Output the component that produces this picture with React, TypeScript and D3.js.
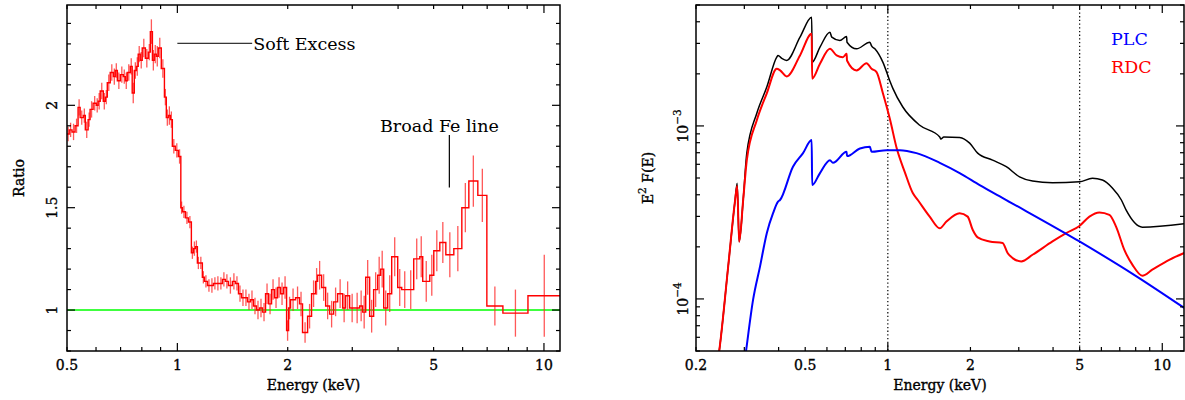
import React from "react";
import * as d3 from "d3";

const FONT = "'DejaVu Serif', serif";

// ---- left panel: data / model ratio, [bin low edge keV, ratio, error]
const ratioBins: [number, number, number][] = [
  [0.5, 1.86, 0.035], [0.507, 1.88, 0.035], [0.516, 1.87, 0.04], [0.526, 1.9, 0.035], [0.536, 1.99, 0.04],
  [0.543, 1.94, 0.035], [0.554, 1.95, 0.035], [0.561, 1.88, 0.04], [0.571, 1.93, 0.035], [0.578, 1.98, 0.04],
  [0.589, 2.01, 0.035], [0.601, 2.0, 0.035], [0.608, 2.02, 0.04], [0.616, 2.07, 0.04], [0.628, 2.02, 0.04],
  [0.636, 2.04, 0.035], [0.644, 2.11, 0.04], [0.656, 2.16, 0.04], [0.669, 2.14, 0.04], [0.677, 2.17, 0.035],
  [0.686, 2.12, 0.04], [0.699, 2.15, 0.04], [0.712, 2.14, 0.035], [0.721, 2.12, 0.04], [0.73, 2.16, 0.04],
  [0.744, 2.19, 0.04], [0.753, 2.06, 0.05], [0.763, 2.17, 0.04], [0.773, 2.19, 0.045], [0.782, 2.25, 0.04],
  [0.792, 2.22, 0.04], [0.802, 2.28, 0.045], [0.818, 2.23, 0.045], [0.833, 2.26, 0.04], [0.844, 2.36, 0.06],
  [0.855, 2.22, 0.05], [0.865, 2.25, 0.045], [0.876, 2.24, 0.05], [0.887, 2.28, 0.05], [0.904, 2.18, 0.045],
  [0.922, 2.04, 0.04], [0.933, 1.94, 0.04], [0.945, 1.95, 0.045], [0.957, 1.93, 0.04], [0.969, 1.8, 0.035],
  [0.987, 1.78, 0.035], [1.006, 1.75, 0.035], [1.022, 1.5, 0.03], [1.032, 1.48, 0.03], [1.052, 1.45, 0.03],
  [1.072, 1.43, 0.03], [1.092, 1.28, 0.03], [1.106, 1.3, 0.035], [1.12, 1.31, 0.03], [1.134, 1.23, 0.03],
  [1.148, 1.23, 0.03], [1.17, 1.16, 0.03], [1.185, 1.14, 0.03], [1.208, 1.12, 0.03], [1.231, 1.12, 0.035],
  [1.254, 1.13, 0.03], [1.278, 1.13, 0.035], [1.302, 1.13, 0.03], [1.327, 1.15, 0.035], [1.352, 1.14, 0.035],
  [1.378, 1.12, 0.04], [1.413, 1.14, 0.04], [1.44, 1.13, 0.035], [1.468, 1.08, 0.04], [1.496, 1.06, 0.04],
  [1.524, 1.06, 0.04], [1.553, 1.04, 0.04], [1.583, 1.05, 0.045], [1.613, 1.02, 0.04], [1.644, 1.0, 0.045],
  [1.675, 1.01, 0.045], [1.707, 0.99, 0.045], [1.74, 1.08, 0.05], [1.773, 1.03, 0.05], [1.807, 1.1, 0.05],
  [1.841, 1.06, 0.05], [1.876, 1.11, 0.05], [1.912, 1.08, 0.055], [1.948, 1.11, 0.055], [1.986, 0.9, 0.05],
  [2.011, 1.01, 0.055], [2.036, 1.05, 0.055], [2.101, 1.06, 0.055], [2.154, 1.03, 0.06], [2.195, 0.89, 0.05],
  [2.266, 0.97, 0.06], [2.323, 1.08, 0.065], [2.383, 1.14, 0.065], [2.413, 1.17, 0.07], [2.475, 1.11, 0.065],
  [2.538, 1.02, 0.065], [2.602, 0.98, 0.065], [2.668, 1.04, 0.07], [2.736, 1.08, 0.07], [2.824, 1.01, 0.07],
  [2.877, 1.07, 0.07], [2.951, 1.01, 0.07], [3.045, 1.01, 0.075], [3.142, 1.02, 0.075], [3.202, 0.99, 0.08],
  [3.264, 1.16, 0.085], [3.346, 0.97, 0.08], [3.431, 1.1, 0.085], [3.519, 1.17, 0.09], [3.586, 1.2, 0.09],
  [3.655, 1.01, 0.085], [3.748, 1.08, 0.09], [3.843, 1.26, 0.095], [3.991, 1.11, 0.09], [4.093, 1.1, 0.09],
  [4.25, 1.1, 0.095], [4.413, 1.25, 0.1], [4.583, 1.26, 0.1], [4.67, 1.14, 0.1], [4.881, 1.17, 0.1],
  [5.006, 1.29, 0.1], [5.199, 1.33, 0.1], [5.399, 1.27, 0.11], [5.677, 1.3, 0.11], [5.97, 1.5, 0.12],
  [6.239, 1.63, 0.125], [6.601, 1.56, 0.13], [6.986, 1.02, 0.095], [7.727, 0.985, 0.115], [9.044, 1.07, 0.2],
];
const ratioLastEdge = 11.1;
const ratioXLabels = [0.5, 1, 2, 5, 10];
const ratioYLabels = ["1", "1.5", "2"];

// ---- right panel: unfolded model E^2 F(E), [keV, flux]
const totalModel: [number, number][] = [
  [0.238, 4.0e-5], [0.243, 5.0e-5], [0.262, 1.54e-4], [0.2777, 3.73e-4], [0.2825, 4.67e-4], [0.2873, 2.14e-4],
  [0.2971, 3.73e-4], [0.3063, 6.96e-4], [0.3331, 1.183e-3], [0.3622, 1.678e-3], [0.3938, 2.497e-3],
  [0.398, 2.555e-3], [0.4108, 2.454e-3], [0.4281, 2.39e-3], [0.4786, 3.258e-3], [0.5279, 4.245e-3],
  [0.53, 2.337e-3], [0.5659, 2.853e-3], [0.6153, 3.479e-3], [0.625, 3.26e-3], [0.669, 3.118e-3],
  [0.7076, 3.287e-3], [0.71, 3.048e-3], [0.7694, 2.79e-3], [0.8603, 3.048e-3], [0.8725, 2.9e-3],
  [0.8969, 2.79e-3], [0.959, 2.337e-3], [1.017, 1.82e-3], [1.043, 1.648e-3], [1.134, 1.286e-3],
  [1.307, 1.009e-3], [1.546, 8.64e-4], [1.56, 8.4e-4], [1.6, 8.64e-4], [1.827, 8.58e-4], [1.987, 7.95e-4],
  [2.125, 6.96e-4], [2.409, 6.34e-4], [2.702, 5.81e-4], [3.02, 5.08e-4], [3.368, 4.8e-4], [3.981, 4.69e-4],
  [4.991, 4.75e-4], [5.566, 4.98e-4], [6.052, 4.87e-4], [6.579, 4.38e-4], [7.095, 3.73e-4], [7.379, 3.27e-4],
  [8.46, 2.6e-4], [12.02, 2.72e-4],
];
const rdcModel: [number, number][] = [
  [0.238, 4.0e-5], [0.243, 5.0e-5], [0.262, 1.54e-4], [0.2777, 3.73e-4], [0.2825, 4.5e-4], [0.2873, 2.14e-4],
  [0.2971, 3.73e-4], [0.3063, 6.34e-4], [0.3331, 1.079e-3], [0.3622, 1.543e-3], [0.3938, 2.141e-3],
  [0.405, 2.094e-3], [0.4281, 1.933e-3], [0.4786, 2.555e-3], [0.5279, 3.407e-3], [0.53, 1.875e-3],
  [0.5659, 2.287e-3], [0.6153, 2.79e-3], [0.6509, 2.555e-3], [0.686, 2.497e-3], [0.7076, 2.612e-3],
  [0.71, 2.39e-3], [0.7694, 2.094e-3], [0.8366, 2.306e-3], [0.8725, 2.141e-3], [0.9097, 2.047e-3],
  [0.959, 1.55e-3], [1.017, 1.1e-3], [1.078, 7.4e-4], [1.153, 5.41e-4], [1.233, 4.09e-4], [1.286, 3.73e-4],
  [1.421, 2.99e-4], [1.546, 2.56e-4], [1.635, 2.8e-4], [1.827, 3.13e-4], [1.954, 2.99e-4], [2.038, 2.51e-4],
  [2.125, 2.27e-4], [2.349, 2.15e-4], [2.619, 2.105e-4], [2.732, 1.842e-4], [2.849, 1.722e-4],
  [3.063, 1.647e-4], [3.368, 1.8e-4], [3.981, 2.15e-4], [4.466, 2.4e-4], [4.991, 2.64e-4], [5.427, 2.99e-4],
  [5.902, 3.16e-4], [6.416, 3.06e-4], [6.786, 2.62e-4], [7.275, 1.92e-4], [7.78, 1.578e-4], [8.46, 1.362e-4],
  [9.196, 1.476e-4], [10.6, 1.684e-4], [12.02, 1.842e-4],
];
const plcModel: [number, number][] = [
  [0.3, 4.2e-5], [0.3046, 5.04e-5], [0.3229, 9.9e-5], [0.3423, 1.542e-4], [0.3622, 2.4e-4], [0.3818, 3.13e-4],
  [0.398, 3.65e-4], [0.4047, 3.73e-4], [0.4512, 5.81e-4], [0.4909, 6.96e-4], [0.5279, 8.28e-4],
  [0.53, 4.55e-4], [0.5659, 5.34e-4], [0.6153, 6.34e-4], [0.631, 6.12e-4], [0.7076, 7.08e-4], [0.71, 6.69e-4],
  [0.791, 7.41e-4], [0.8603, 7.57e-4], [0.8725, 7.08e-4], [0.9892, 7.24e-4], [1.106, 7.24e-4],
  [1.272, 6.96e-4], [1.546, 6.12e-4], [1.827, 5.34e-4], [2.161, 4.55e-4], [2.702, 3.73e-4], [4.991, 2.15e-4],
  [8.0, 1.36e-4], [12.02, 8.87e-5],
];
const fluxXLabels = [0.2, 0.5, 1, 2, 5, 10];
const fluxYLabels = [
  { v: 1e-4, exp: "\u22124" },
  { v: 1e-3, exp: "\u22123" },
];
const dottedEnergies = [1, 5];
const legend = [
  { label: "PLC", color: "#0000ff" },
  { label: "RDC", color: "#ff0000" },
];

const fmt = (v: number) => String(v);

function logTicks(d0: number, d1: number) {
  const out: { v: number; major: boolean }[] = [];
  for (let e = Math.floor(Math.log10(d0)); e <= Math.ceil(Math.log10(d1)); e++) {
    for (let m = 1; m <= 9; m++) {
      const v = m * Math.pow(10, e);
      if (v >= d0 * 0.999 && v <= d1 * 1.001) out.push({ v, major: m === 1 });
    }
  }
  return out;
}

// slightly heavier text, like the plotting package's stroke font
const labelStyle = { fontSize: 14, stroke: "#000", strokeWidth: 0.35 };

export default function App() {
  // left panel
  const xL = d3.scaleLog().domain([0.5, 11.06]).range([67, 560]);
  const yL = d3.scaleLinear().domain([0.8, 2.49]).range([351, 5]);
  // right panel
  const xR = d3.scaleLog().domain([0.2, 12]).range([696, 1184]);
  const yR = d3.scaleLog().domain([5e-5, 5e-3]).range([351, 5]);

  const stepPts: [number, number][] = ratioBins.map((b) => [b[0], b[1]]);
  stepPts.push([ratioLastEdge, ratioBins[ratioBins.length - 1][1]]);
  const stepLine = d3
    .line<[number, number]>()
    .x((d) => xL(d[0]))
    .y((d) => yL(d[1]))
    .curve(d3.curveStepAfter);

  const modelLine = d3
    .line<[number, number]>()
    .x((d) => xR(d[0]))
    .y((d) => yR(d[1]))
    .curve(d3.curveMonotoneX);

  const [lx0, lx1] = xL.range();
  const [ly0, ly1] = yL.range();
  const [rx0, rx1] = xR.range();
  const [ry0, ry1] = yR.range();

  const lxTicks = logTicks(0.5, 11.06);
  const lyTicks = d3.range(8, 25).map((i) => ({ v: i / 10, major: i % 5 === 0 }));
  const rxTicks = logTicks(0.2, 12);
  const ryTicks = logTicks(5e-5, 5e-3);

  const MAJ = 8;
  const MIN = 4;

  return (
    <svg
      width={1185}
      height={400}
      style={{ position: "absolute", left: 0, top: 0, background: "#fff" }}
      fontFamily={FONT}
    >
      <defs>
        <clipPath id="clipL">
          <rect x={lx0} y={ly1} width={lx1 - lx0} height={ly0 - ly1} />
        </clipPath>
        <clipPath id="clipR">
          <rect x={rx0} y={ry1} width={rx1 - rx0} height={ry0 - ry1} />
        </clipPath>
      </defs>

      {/* ---------- left panel ---------- */}
      <g clipPath="url(#clipL)">
        <line x1={lx0} x2={lx1} y1={yL(1)} y2={yL(1)} stroke="#00ff00" strokeWidth={1.5} />
        {ratioBins.map((b, i) => {
          const hi = i < ratioBins.length - 1 ? ratioBins[i + 1][0] : ratioLastEdge;
          const xc = xL(Math.sqrt(b[0] * hi));
          return (
            <line
              key={i}
              x1={xc}
              x2={xc}
              y1={yL(b[1] - b[2])}
              y2={yL(b[1] + b[2])}
              stroke="#ff2020"
              strokeOpacity={0.75}
              strokeWidth={1.3}
            />
          );
        })}
        <path d={stepLine(stepPts) || ""} fill="none" stroke="#ff0000" strokeWidth={1.4} />
      </g>

      <rect x={lx0} y={ly1} width={lx1 - lx0} height={ly0 - ly1} fill="none" stroke="#000" strokeWidth={1.5} />
      {lxTicks.map((t, i) => {
        const x = xL(t.v);
        const l = t.major ? MAJ : MIN;
        return (
          <g key={i} stroke="#000" strokeWidth={1.2}>
            <line x1={x} x2={x} y1={ly0} y2={ly0 - l} />
            <line x1={x} x2={x} y1={ly1} y2={ly1 + l} />
          </g>
        );
      })}
      {lyTicks.map((t, i) => {
        const y = yL(t.v);
        const l = t.major ? MAJ : MIN;
        return (
          <g key={i} stroke="#000" strokeWidth={1.2}>
            <line x1={lx0} x2={lx0 + l} y1={y} y2={y} />
            <line x1={lx1} x2={lx1 - l} y1={y} y2={y} />
          </g>
        );
      })}
      {ratioXLabels.map((v) => (
        <text key={v} x={xL(v)} y={370} textAnchor="middle" {...labelStyle}>
          {fmt(v)}
        </text>
      ))}
      {ratioYLabels.map((s) => (
        <text key={s} transform={`translate(57,${yL(+s)}) rotate(-90)`} textAnchor="middle" {...labelStyle}>
          {s}
        </text>
      ))}
      <text x={(lx0 + lx1) / 2} y={390} textAnchor="middle" {...labelStyle}>
        Energy (keV)
      </text>
      <text transform={`translate(24,${(ly0 + ly1) / 2}) rotate(-90)`} textAnchor="middle" {...labelStyle}>
        Ratio
      </text>

      {/* annotations */}
      <line x1={xL(1.0)} x2={xL(1.6)} y1={yL(2.303)} y2={yL(2.303)} stroke="#000" strokeWidth={1} />
      <text x={xL(1.6) + 1} y={yL(2.303) + 6.5} fontSize={17.5}>
        Soft Excess
      </text>
      <line x1={xL(5.52)} x2={xL(5.52)} y1={yL(1.855)} y2={yL(1.598)} stroke="#000" strokeWidth={1.2} />
      <text x={xL(3.57)} y={yL(1.87)} fontSize={17.5}>
        Broad Fe line
      </text>

      {/* ---------- right panel ---------- */}
      <g clipPath="url(#clipR)">
        {dottedEnergies.map((e) => (
          <line
            key={e}
            x1={xR(e)}
            x2={xR(e)}
            y1={ry1}
            y2={ry0}
            stroke="#000"
            strokeWidth={1.2}
            strokeDasharray="1.3 2.4"
          />
        ))}
        <path d={modelLine(totalModel) || ""} fill="none" stroke="#000" strokeWidth={1.5} />
        <path d={modelLine(rdcModel) || ""} fill="none" stroke="#ff0000" strokeWidth={2} />
        <path d={modelLine(plcModel) || ""} fill="none" stroke="#0000ff" strokeWidth={2} />
      </g>

      <rect x={rx0} y={ry1} width={rx1 - rx0} height={ry0 - ry1} fill="none" stroke="#000" strokeWidth={1.5} />
      {rxTicks.map((t, i) => {
        const x = xR(t.v);
        const l = t.major ? MAJ : MIN;
        return (
          <g key={i} stroke="#000" strokeWidth={1.2}>
            <line x1={x} x2={x} y1={ry0} y2={ry0 - l} />
            <line x1={x} x2={x} y1={ry1} y2={ry1 + l} />
          </g>
        );
      })}
      {ryTicks.map((t, i) => {
        const y = yR(t.v);
        const l = t.major ? MAJ : MIN;
        return (
          <g key={i} stroke="#000" strokeWidth={1.2}>
            <line x1={rx0} x2={rx0 + l} y1={y} y2={y} />
            <line x1={rx1} x2={rx1 - l} y1={y} y2={y} />
          </g>
        );
      })}
      {fluxXLabels.map((v) => (
        <text key={v} x={xR(v)} y={370} textAnchor="middle" {...labelStyle}>
          {fmt(v)}
        </text>
      ))}
      {fluxYLabels.map((t) => (
        <text key={t.exp} transform={`translate(688,${yR(t.v)}) rotate(-90)`} textAnchor="middle" {...labelStyle}>
          10
          <tspan dy={-7} fontSize={10.5} strokeWidth={0.25}>
            {t.exp}
          </tspan>
        </text>
      ))}
      <text x={(rx0 + rx1) / 2} y={390} textAnchor="middle" {...labelStyle}>
        Energy (keV)
      </text>
      <text transform={`translate(653,${(ry0 + ry1) / 2}) rotate(-90)`} textAnchor="middle" {...labelStyle}>
        E
        <tspan dy={-7} fontSize={10.5} strokeWidth={0.25}>
          2
        </tspan>
        <tspan dy={7}> F(E)</tspan>
      </text>

      {legend.map((l, i) => (
        <text key={l.label} x={1111} y={45 + i * 28} fill={l.color} fontSize={17.5}>
          {l.label}
        </text>
      ))}
    </svg>
  );
}
